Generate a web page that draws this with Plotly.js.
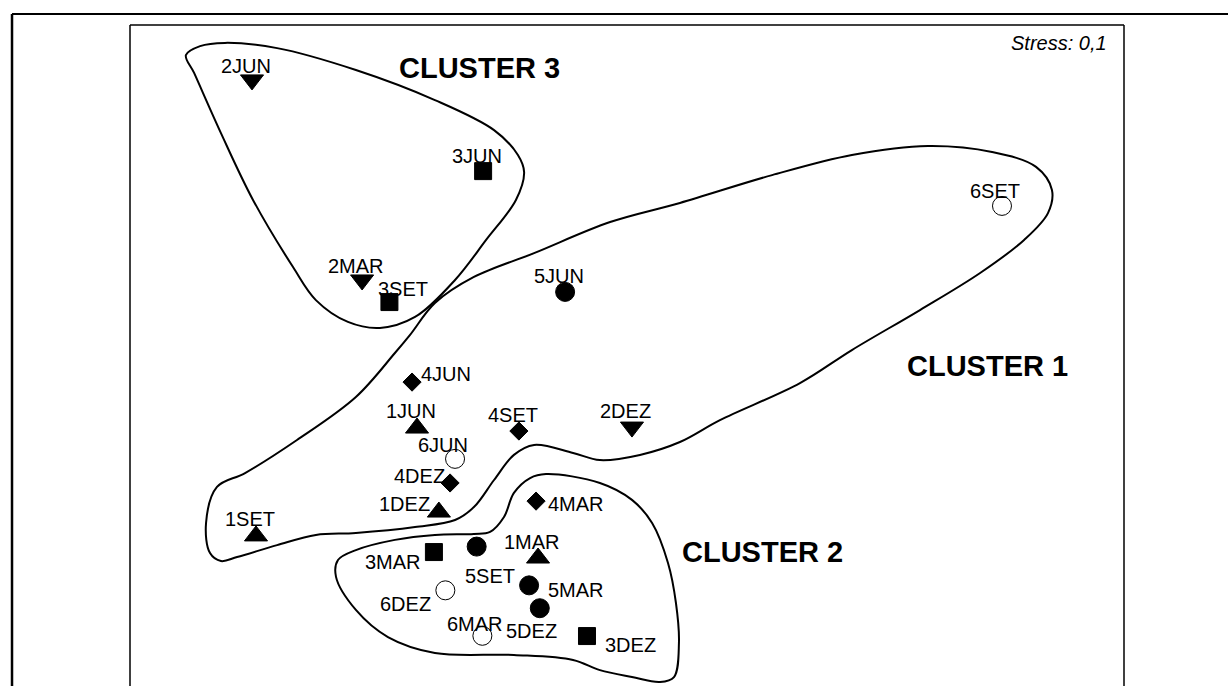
<!DOCTYPE html>
<html>
<head>
<meta charset="utf-8">
<script src="https://cdn.plot.ly/plotly-3.0.1.min.js"></script>
<style>
    html, body { margin: 0; padding: 0; background: #fff; overflow: hidden; }
    #nmdsChart { width: 1228px; height: 686px; }
</style>
</head>
<body>
<div id="nmdsChart"></div>
<script>
// NMDS ordination scores (sample = site number + month)
const sampleNames = [
    '1JUN', '1SET', '1DEZ', '1MAR',
    '2JUN', '2MAR', '2DEZ',
    '3JUN', '3SET', '3MAR', '3DEZ',
    '4JUN', '4SET', '4DEZ', '4MAR',
    '5JUN', '5SET', '5MAR', '5DEZ',
    '6SET', '6JUN', '6DEZ', '6MAR'
];
const sampleX = [
    -0.845, -1.493, -0.757, -0.358,
    -1.509, -1.066, 0.020,
    -0.579, -0.956, -0.777, -0.161,
    -0.865, -0.435, -0.712, -0.366,
    -0.249, -0.605, -0.394, -0.351,
    1.509, -0.692, -0.731, -0.582
];
const sampleY = [
    -0.292, -0.726, -0.630, -0.815,
    1.109, 0.304, -0.288,
    0.742, 0.215, -0.791, -1.129,
    -0.107, -0.304, -0.513, -0.586,
    0.256, -0.769, -0.925, -1.017,
    0.602, -0.416, -0.945, -1.128
];

// hand drawn cluster outlines
const cluster1X = [-1.650, -1.537, -1.328, -1.091, -0.934, -0.873, -0.773, -0.616, -0.374, -0.068, 0.213, 0.584, 0.905, 1.211, 1.469, 1.646, 1.710, 1.694, 1.598, 1.421, 1.179, 0.905, 0.696, 0.374, 0.213, 0.052, -0.109, -0.217, -0.374, -0.455, -0.535, -0.616, -0.692, -0.853, -1.091, -1.252, -1.408, -1.569, -1.634, -1.678, -1.694, -1.650];
const cluster1Y = [-0.529, -0.473, -0.340, -0.167, 0.010, 0.083, 0.211, 0.316, 0.412, 0.537, 0.614, 0.726, 0.807, 0.843, 0.819, 0.759, 0.666, 0.573, 0.465, 0.332, 0.183, 0.022, -0.111, -0.260, -0.348, -0.400, -0.421, -0.392, -0.360, -0.400, -0.501, -0.610, -0.662, -0.690, -0.714, -0.722, -0.763, -0.811, -0.827, -0.795, -0.674, -0.529];

const cluster2X = [-0.326, -0.109, 0.020, 0.101, 0.165, 0.197, 0.209, 0.189, 0.133, 0.020, -0.109, -0.217, -0.455, -0.773, -0.962, -1.091, -1.171, -1.163, -1.091, -0.934, -0.773, -0.616, -0.551, -0.495, -0.455, -0.390, -0.326];
const cluster2Y = [-0.477, -0.513, -0.581, -0.674, -0.835, -0.996, -1.157, -1.294, -1.314, -1.294, -1.266, -1.225, -1.205, -1.197, -1.133, -1.024, -0.891, -0.823, -0.783, -0.742, -0.722, -0.718, -0.710, -0.650, -0.553, -0.493, -0.477];

const cluster3X = [-1.775, -1.718, -1.618, -1.408, -1.091, -0.773, -0.535, -0.439, -0.414, -0.447, -0.567, -0.692, -0.853, -0.994, -1.123, -1.252, -1.344, -1.505, -1.634, -1.742, -1.775];
const cluster3Y = [1.209, 1.245, 1.258, 1.237, 1.149, 1.028, 0.907, 0.807, 0.738, 0.626, 0.465, 0.304, 0.155, 0.111, 0.135, 0.223, 0.356, 0.626, 0.895, 1.137, 1.209];

const clusterNames = ['CLUSTER 1', 'CLUSTER 2', 'CLUSTER 3'];
const clusterLabelX = [1.449, 0.547, -0.592];
const clusterLabelY = [-0.042, -0.791, 1.157];

const stressText = 'Stress: 0,1';

// styling
const FONT = 'Liberation Sans, Arial, sans-serif';

const siteSymbols = {
    '1': { symbol: 'triangle-up', size: 20 },
    '2': { symbol: 'triangle-down', size: 20 },
    '3': { symbol: 'square', size: 17 },
    '4': { symbol: 'diamond', size: 14 },
    '5': { symbol: 'circle', size: 19 },
    '6': { symbol: 'circle-open', size: 19 }
};

// label offset from its marker in pixels [dx, dy], dy down
const labelOffsets = {
    '1JUN': [-6, -17], '1SET': [-6, -17], '1DEZ': [-34, -8], '1MAR': [-6, -16],
    '2JUN': [-6, -14], '2MAR': [-6, -14], '2DEZ': [-6, -16],
    '3JUN': [-6, -15], '3SET': [14, -13], '3MAR': [-41, 10], '3DEZ': [44, 9],
    '4JUN': [34, -8], '4SET': [-6, -16], '4DEZ': [-31, -7], '4MAR': [40, 3],
    '5JUN': [-6, -16], '5SET': [13, 29], '5MAR': [47, 5], '5DEZ': [-8, 23],
    '6SET': [-7, -15], '6JUN': [-12, -14], '6DEZ': [-40, 14], '6MAR': [-7, -12]
};

function outlineTrace(xs, ys) {
    return {
        x: xs,
        y: ys,
        type: 'scatter',
        mode: 'lines',
        line: { color: '#000', width: 2, shape: 'spline', smoothing: 1 },
        hoverinfo: 'skip',
        showlegend: false
    };
}

function buildTraces() {
    const traces = [
        outlineTrace(cluster1X, cluster1Y),
        outlineTrace(cluster2X, cluster2Y),
        outlineTrace(cluster3X, cluster3Y)
    ];

    //one marker trace per site
    Object.keys(siteSymbols).forEach(function (site) {
        const xs = [];
        const ys = [];
        const names = [];
        for (let i = 0; i < sampleNames.length; i++) {
            if (sampleNames[i].charAt(0) === site) {
                xs.push(sampleX[i]);
                ys.push(sampleY[i]);
                names.push(sampleNames[i]);
            }
        }
        const style = siteSymbols[site];
        traces.push({
            x: xs,
            y: ys,
            text: names,
            type: 'scatter',
            mode: 'markers',
            marker: {
                symbol: style.symbol,
                size: style.size,
                color: '#000',
                line: { color: '#000', width: 1 }
            },
            hoverinfo: 'text',
            showlegend: false
        });
    });

    return traces;
}

function buildAnnotations() {
    const annotations = [];

    for (let i = 0; i < sampleNames.length; i++) {
        const off = labelOffsets[sampleNames[i]] || [0, -15];
        annotations.push({
            x: sampleX[i],
            y: sampleY[i],
            xref: 'x',
            yref: 'y',
            text: sampleNames[i],
            showarrow: false,
            xshift: off[0],
            yshift: -off[1],
            font: { family: FONT, size: 20, color: '#000' }
        });
    }

    for (let i = 0; i < clusterNames.length; i++) {
        annotations.push({
            x: clusterLabelX[i],
            y: clusterLabelY[i],
            xref: 'x',
            yref: 'y',
            text: '<b>' + clusterNames[i] + '</b>',
            showarrow: false,
            font: { family: FONT, size: 29, color: '#000' }
        });
    }

    annotations.push({
        x: 0.985,
        y: 0.973,
        xref: 'paper',
        yref: 'paper',
        xanchor: 'right',
        yanchor: 'middle',
        text: '<i>' + stressText + '</i>',
        showarrow: false,
        font: { family: FONT, size: 20, color: '#000' }
    });

    return annotations;
}

function frameShapes() {
    const line = function (x0, y0, x1, y1, w) {
        return {
            type: 'line', xref: 'paper', yref: 'paper',
            x0: x0, y0: y0, x1: x1, y1: y1,
            line: { color: '#000', width: w }
        };
    };
    return [
        //outer frame (left and top, runs off the page)
        line(-0.1187, -0.05, -0.1187, 1.0166, 2.5),
        line(-0.1187, 1.0166, 1.12, 1.0166, 2),
        //plot box
        line(0, -0.05, 0, 1, 1.5),
        line(0, 1, 1, 1, 1.5),
        line(1, -0.05, 1, 1, 1.5)
    ];
}

const layout = {
    width: 1228,
    height: 686,
    margin: { l: 130, r: 104, t: 25, b: 0, pad: 0 },
    paper_bgcolor: '#fff',
    plot_bgcolor: '#fff',
    xaxis: { range: [-2, 2], visible: false, fixedrange: true },
    yaxis: { range: [-1.33, 1.33], visible: false, fixedrange: true },
    shapes: frameShapes(),
    annotations: buildAnnotations(),
    showlegend: false
};

Plotly.newPlot('nmdsChart', buildTraces(), layout, { displayModeBar: false, staticPlot: true });
</script>
</body>
</html>
